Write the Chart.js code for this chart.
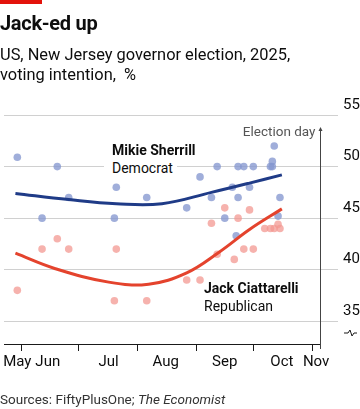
<!DOCTYPE html>
<html>
<head>
<meta charset="utf-8">
<script src="https://cdn.jsdelivr.net/npm/chart.js@4"></script>
<style>
  body { margin: 0; background: #fff; }
  #wrap { position: relative; width: 360px; height: 409px; overflow: hidden; font-family: Roboto, "Noto Sans", sans-serif; color: #0d0d0d; }
  #myChart { position: absolute; left: 0; top: 0; }
  .redbar { position: absolute; left: 0; top: 0; width: 42px; height: 4px; background: #e3120b; }
  .title { position: absolute; left: 0; top: 13px; font-size: 20px; line-height: 20px; font-weight: 700; letter-spacing: -0.3px; }
  .sub { position: absolute; left: 0; top: 45px; font-size: 16.4px; line-height: 20px; }
  .source { position: absolute; left: 0; top: 391px; font-size: 13.5px; line-height: 16px; color: #333; }
  .lab { position: absolute; font-size: 14px; line-height: 18px; white-space: nowrap; }
  .lab b { font-weight: 700; }
</style>
</head>
<body>
<div id="wrap">
  <canvas id="myChart" width="360" height="409"></canvas>
  <div class="redbar"></div>
  <div class="title">Jack-ed up</div>
  <div class="sub">US, New Jersey governor election, 2025,<br>voting intention,&nbsp; %</div>
  <div class="lab" style="left:112px;top:141px;"><b>Mikie Sherrill</b></div>
  <div class="lab" style="left:104px;top:159px;padding-left:8px;padding-right:4px;background:#fff;">Democrat</div>
  <div class="lab" style="left:204px;top:279px;"><b>Jack Ciattarelli</b></div>
  <div class="lab" style="left:204px;top:297px;">Republican</div>
  <div class="source">Sources: FiftyPlusOne; <i>The Economist</i></div>
</div>
<script>
// poll dots
const demPollDates = ['2025-05-30', '2025-06-20', '2025-07-21', '2025-06-26', '2025-06-12', '2025-07-20',
  '2025-08-06', '2025-09-03', '2025-09-09', '2025-08-27', '2025-09-12', '2025-09-23', '2025-09-26',
  '2025-10-01', '2025-10-10', '2025-10-11', '2025-10-11', '2025-10-12', '2025-09-20', '2025-09-29',
  '2025-09-23', '2025-10-15', '2025-09-16', '2025-10-14', '2025-09-22'];
const demPollValues = [50.9, 50, 48, 47, 45, 45,
  47, 49, 47, 46, 50, 50, 50,
  50, 50, 50, 50.5, 52, 48, 48,
  47, 47, 45, 45.2, 43.3];

const repPollDates = ['2025-06-20', '2025-06-12', '2025-06-26', '2025-07-21', '2025-05-30', '2025-07-20',
  '2025-08-06', '2025-09-09', '2025-08-27', '2025-09-03', '2025-09-16', '2025-09-29', '2025-09-23',
  '2025-10-07', '2025-10-10', '2025-10-12', '2025-10-15', '2025-10-14', '2025-09-26', '2025-10-01',
  '2025-09-21', '2025-09-12'];
const repPollValues = [43, 42, 42, 42, 38, 37,
  37, 44.5, 39, 39, 46, 45.8, 45,
  44, 44, 44, 44, 44.4, 42, 42,
  41, 41.5];

// smoothed trend lines
const demTrendDates = ['2025-05-29', '2025-06-26', '2025-07-21', '2025-08-14', '2025-09-09', '2025-09-29', '2025-10-16'];
const demTrendValues = [47.4, 46.8, 46.4, 46.4, 47.5, 48.4, 49.2];
const repTrendDates = ['2025-05-29', '2025-06-19', '2025-07-17', '2025-08-07', '2025-08-27', '2025-09-13', '2025-09-29', '2025-10-16'];
const repTrendValues = [41.6, 40.1, 38.8, 38.6, 39.7, 41.7, 43.9, 45.9];

// axes
const monthStarts = ['2025-06-01', '2025-07-01', '2025-08-01', '2025-09-01', '2025-10-01', '2025-11-01'];
const monthLabels = ['May', 'Jun', 'Jul', 'Aug', 'Sep', 'Oct', 'Nov'];
const monthLabelDates = ['2025-05-30', '2025-06-15', '2025-07-17', '2025-08-16', '2025-09-16', '2025-10-16', '2025-11-03'];
const yTicks = [35, 40, 45, 50, 55];
const electionDay = '2025-11-05';

// days counted from 1 June
function dayNum(s) {
  return (Date.parse(s) - Date.parse('2025-06-01')) / 86400000;
}
function toPoints(dates, values) {
  return dates.map((d, i) => ({ x: dayNum(d), y: values[i] }));
}

const startDays = monthStarts.map(dayNum);
const labelDays = monthLabelDates.map(dayNum);

// election day line, baseline, axis break
const extras = {
  id: 'extras',
  afterDatasetsDraw(chart) {
    const c = chart.ctx;
    const x = chart.scales.x;
    const area = chart.chartArea;
    const ex = Math.round(x.getPixelForValue(dayNum(electionDay))) + 0.5;
    c.save();
    c.strokeStyle = '#1a1a1a';
    c.lineWidth = 1;
    // baseline
    c.beginPath();
    c.moveTo(area.left, area.bottom + 0.5);
    c.lineTo(ex, area.bottom + 0.5);
    c.stroke();
    // election day
    c.strokeStyle = '#444';
    c.beginPath();
    c.moveTo(ex, area.top + 14);
    c.lineTo(ex, area.bottom + 5);
    c.stroke();
    c.fillStyle = '#444';
    c.beginPath();
    c.moveTo(ex, area.top + 12);
    c.lineTo(ex - 2, area.top + 16);
    c.lineTo(ex + 2, area.top + 16);
    c.closePath();
    c.fill();
    c.font = '13.5px Roboto, sans-serif';
    c.fillStyle = '#555';
    c.textAlign = 'right';
    c.textBaseline = 'alphabetic';
    c.fillText('Election day', ex - 5, area.top + 21);
    // axis break
    c.strokeStyle = '#1a1a1a';
    c.beginPath();
    c.moveTo(344, 333);
    c.lineTo(348, 333);
    c.lineTo(350, 330);
    c.lineTo(352, 336);
    c.lineTo(354, 333);
    c.lineTo(357, 333);
    c.stroke();
    c.restore();
  }
};

document.addEventListener('DOMContentLoaded', function() {
  const config = {
    type: 'scatter',
    data: {
      datasets: [{
        label: 'Sherrill trend',
        data: toPoints(demTrendDates, demTrendValues),
        showLine: true,
        borderColor: '#1f3b87',
        borderWidth: 3,
        pointRadius: 0,
        tension: 0.4
      }, {
        label: 'Ciattarelli trend',
        data: toPoints(repTrendDates, repTrendValues),
        showLine: true,
        borderColor: '#e4432d',
        borderWidth: 3,
        pointRadius: 0,
        tension: 0.4
      }, {
        label: 'Sherrill polls',
        data: toPoints(demPollDates, demPollValues),
        backgroundColor: 'rgba(133,151,208,0.78)',
        borderWidth: 0,
        pointRadius: 3.8
      }, {
        label: 'Ciattarelli polls',
        data: toPoints(repPollDates, repPollValues),
        backgroundColor: 'rgba(243,152,145,0.75)',
        borderWidth: 0,
        pointRadius: 3.8
      }]
    },
    options: {
      responsive: false,
      devicePixelRatio: 1,
      animation: false,
      layout: { padding: { top: 115, left: 0, right: 0, bottom: 33 } },
      plugins: {
        legend: { display: false },
        tooltip: { enabled: false }
      },
      scales: {
        x: {
          type: 'linear',
          min: -9,
          max: 166.5,
          afterBuildTicks: function(scale) {
            scale.ticks = startDays.concat(labelDays).sort((a, b) => a - b).map(v => ({ value: v }));
          },
          afterFit: function(scale) { scale.height = 32; },
          border: { display: false },
          grid: {
            drawOnChartArea: false,
            drawTicks: true,
            tickLength: 7,
            tickWidth: 1,
            tickColor: (ctx) => (ctx.tick && startDays.includes(ctx.tick.value)) ? '#1a1a1a' : 'rgba(0,0,0,0)'
          },
          ticks: {
            autoSkip: false,
            maxRotation: 0,
            padding: 2,
            color: '#0d0d0d',
            font: { family: 'Roboto', size: 15 },
            callback: function(value) {
              const i = labelDays.indexOf(value);
              return i >= 0 ? monthLabels[i] : '';
            }
          }
        },
        y: {
          position: 'right',
          min: 32.8,
          max: 55,
          afterBuildTicks: function(scale) {
            scale.ticks = yTicks.map(v => ({ value: v }));
          },
          afterFit: function(scale) { scale.width = 22; },
          border: { display: false },
          grid: { color: '#d0d0d0', lineWidth: 1, drawTicks: false },
          ticks: {
            padding: 5,
            labelOffset: -10,
            color: '#0d0d0d',
            font: { family: 'Roboto', size: 15 }
          }
        }
      }
    },
    plugins: [extras]
  };

  const ctx = document.getElementById('myChart').getContext('2d');
  const myChart = new Chart(ctx, config);
});
</script>
</body>
</html>
